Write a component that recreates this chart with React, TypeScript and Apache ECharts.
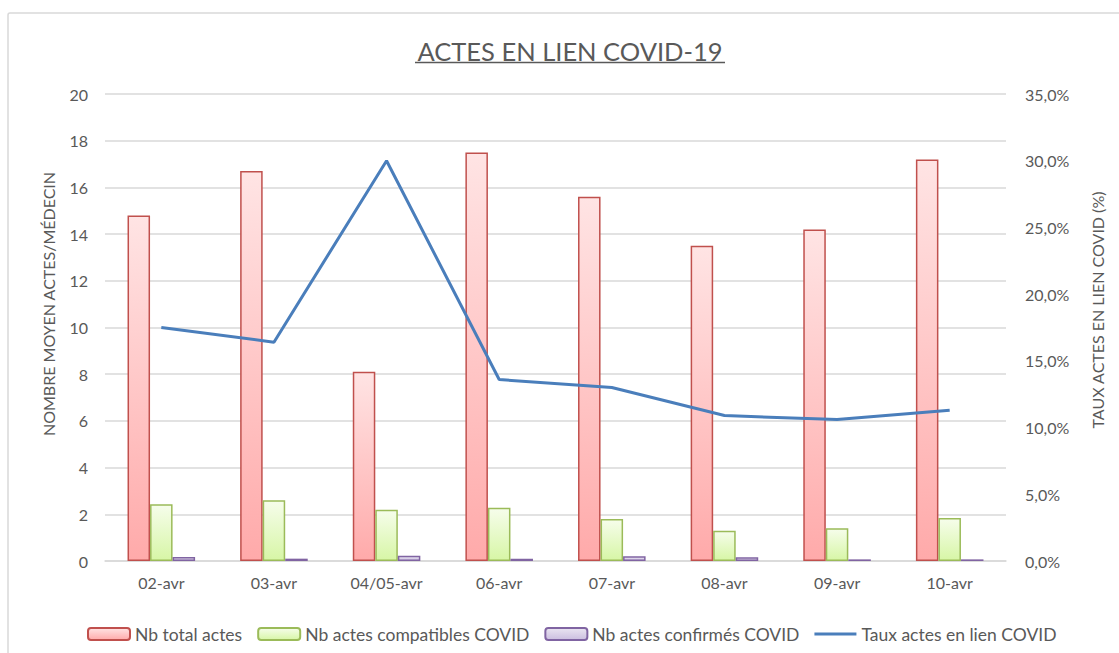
import React, { useEffect, useRef } from "react";
import * as echarts from "echarts";

const categories = ["02-avr", "03-avr", "04/05-avr", "06-avr", "07-avr", "08-avr", "09-avr", "10-avr"];
const totalActes = [14.8, 16.7, 8.1, 17.5, 15.6, 13.5, 14.2, 17.2];
const actesCompatibles = [2.43, 2.6, 2.2, 2.28, 1.8, 1.3, 1.4, 1.84];
const actesConfirmes = [0.17, 0.1, 0.23, 0.1, 0.2, 0.16, 0.07, 0.07];
const tauxLienCovid = [17.5, 16.4, 30.0, 13.6, 13.0, 10.9, 10.6, 11.3];

const leftTicks = { min: 0, max: 20, interval: 2 };
const rightTicks = { min: 0, max: 35, interval: 5 };

const FONT = "Lato, 'Open Sans', sans-serif";
const TXT = "#595959";

function grad(top: string, bottom: string) {
  return new echarts.graphic.LinearGradient(0, 0, 0, 1, [
    { offset: 0, color: top },
    { offset: 1, color: bottom },
  ]);
}

export default function App() {
  const ref = useRef<HTMLDivElement>(null);
  useEffect(() => {
    if (!ref.current) return;
    const chart = echarts.init(ref.current, undefined, { renderer: "svg" });
    chart.setOption({
      animation: false,
      backgroundColor: "#ffffff",
      textStyle: { fontFamily: FONT, color: TXT },
      graphic: [
        {
          type: "rect",
          shape: { x: 8, y: 13, width: 1120, height: 650, r: 2 },
          style: { fill: "none", stroke: "#D9D9D9", lineWidth: 1.5 },
          silent: true,
        },
        {
          type: "text",
          x: 570,
          y: 51,
          style: {
            text: "ACTES EN LIEN COVID-19",
            fontFamily: FONT,
            fontSize: 25.5,
            fill: TXT,
            align: "center",
            verticalAlign: "middle",
          },
        },
        {
          type: "line",
          shape: { x1: 415, y1: 62.5, x2: 725, y2: 62.5 },
          style: { stroke: TXT, lineWidth: 1.5 },
        },
        {
          type: "text",
          x: 48,
          y: 304,
          rotation: Math.PI / 2,
          style: {
            text: "NOMBRE MOYEN ACTES/MÉDECIN",
            fontFamily: FONT,
            fontSize: 16,
            fill: TXT,
            align: "center",
            verticalAlign: "middle",
          },
        },
        {
          type: "text",
          x: 1097,
          y: 310,
          rotation: Math.PI / 2,
          style: {
            text: "TAUX ACTES EN LIEN COVID (%)",
            fontFamily: FONT,
            fontSize: 16,
            fill: TXT,
            align: "center",
            verticalAlign: "middle",
          },
        },
      ],
      grid: { left: 105, right: 113, top: 94, bottom: 92 },
      legend: {
        left: 82,
        top: 620,
        itemWidth: 42,
        itemHeight: 12,
        itemGap: 15,
        textStyle: { fontFamily: FONT, fontSize: 17.5, color: TXT },
        data: [
          { name: "Nb total actes" },
          { name: "Nb actes compatibles COVID" },
          { name: "Nb actes confirmés COVID" },
          { name: "Taux actes en lien COVID", icon: "path://M0,0h42v3H0z" },
        ],
      },
      xAxis: {
        type: "category",
        data: categories,
        axisLine: { lineStyle: { color: "#D9D9D9", width: 1.5 } },
        axisTick: { show: false },
        axisLabel: { fontFamily: FONT, fontSize: 16, color: TXT, margin: 13 },
      },
      yAxis: [
        {
          type: "value",
          min: leftTicks.min,
          max: leftTicks.max,
          interval: leftTicks.interval,
          axisLine: { show: false },
          axisTick: { show: false },
          axisLabel: { fontFamily: FONT, fontSize: 16, color: TXT, margin: 17 },
          splitLine: { lineStyle: { color: "#D9D9D9", width: 1.5 } },
        },
        {
          type: "value",
          min: rightTicks.min,
          max: rightTicks.max,
          interval: rightTicks.interval,
          axisLine: { show: false },
          axisTick: { show: false },
          splitLine: { show: false },
          axisLabel: {
            fontFamily: FONT,
            fontSize: 16,
            color: TXT,
            margin: 19,
            formatter: (v: number) => v.toFixed(1).replace(".", ",") + "%",
          },
        },
      ],
      series: [
        {
          name: "Nb total actes",
          type: "bar",
          data: totalActes,
          barGap: "0%",
          barCategoryGap: "40%",
          itemStyle: { color: grad("#FFE4E4", "#FFAAAA"), borderColor: "#C0504D", borderWidth: 1.5 },
        },
        {
          name: "Nb actes compatibles COVID",
          type: "bar",
          data: actesCompatibles,
          barGap: "0%",
          barCategoryGap: "40%",
          itemStyle: { color: grad("#F6FDEB", "#D7F6A6"), borderColor: "#9BBB59", borderWidth: 1.5 },
        },
        {
          name: "Nb actes confirmés COVID",
          type: "bar",
          data: actesConfirmes,
          barGap: "0%",
          barCategoryGap: "40%",
          itemStyle: { color: grad("#EAE5F1", "#CBBEDF"), borderColor: "#8064A2", borderWidth: 1.5 },
        },
        {
          name: "Taux actes en lien COVID",
          type: "line",
          yAxisIndex: 1,
          data: tauxLienCovid,
          symbol: "none",
          showSymbol: false,
          lineStyle: { color: "#4A7EBB", width: 3 },
          itemStyle: { color: "#4A7EBB" },
        },
      ],
    });
    return () => chart.dispose();
  }, []);
  return <div ref={ref} style={{ position: "absolute", left: 0, top: 0, width: 1119, height: 653 }} />;
}
